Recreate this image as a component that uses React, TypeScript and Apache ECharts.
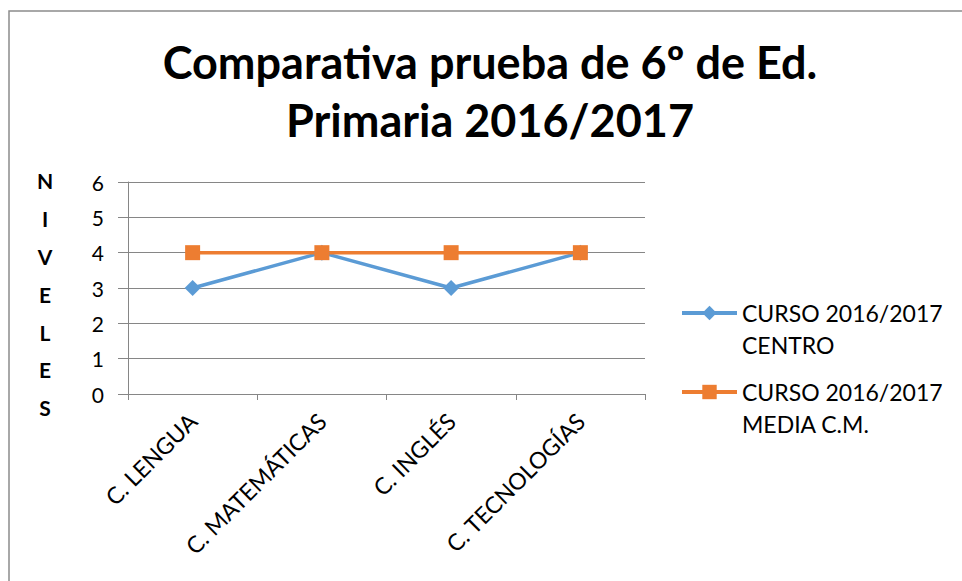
import React, { useEffect, useRef } from "react";
import * as echarts from "echarts";

const categories = ["C. LENGUA", "C. MATEMÁTICAS", "C. INGLÉS", "C. TECNOLOGÍAS"];
const centroValues = [3, 4, 3, 4];
const mediaValues = [4, 4, 4, 4];
const seriesNames = ["CURSO 2016/2017\nCENTRO", "CURSO 2016/2017\nMEDIA C.M."];
const titleLines = ["Comparativa prueba de 6º de Ed.", "Primaria 2016/2017"];
const yAxisTitle = "NIVELES";

const FONT = "Lato, 'Noto Sans', sans-serif";

export default function App() {
  const ref = useRef<HTMLDivElement>(null);
  useEffect(() => {
    if (!ref.current) return;
    const chart = echarts.init(ref.current, undefined, { renderer: "svg" });
    const option = {
      animation: false,
      backgroundColor: "#ffffff",
      textStyle: { fontFamily: FONT },
      graphic: [
        {
          type: "rect",
          shape: { x: 9, y: 11, width: 1000, height: 600 },
          style: { fill: "none", stroke: "#8c8c8c", lineWidth: 1.5 },
          silent: true,
        },
        {
          type: "text",
          x: 490,
          y: 62,
          style: {
            text: titleLines[0],
            fontFamily: FONT,
            fontWeight: "bold",
            fontSize: 45,
            fill: "#000",
            textAlign: "center",
            textVerticalAlign: "middle",
          },
        },
        {
          type: "text",
          x: 490,
          y: 120,
          style: {
            text: titleLines[1],
            fontFamily: FONT,
            fontWeight: "bold",
            fontSize: 45,
            fill: "#000",
            textAlign: "center",
            textVerticalAlign: "middle",
          },
        },
        {
          type: "text",
          x: 45,
          y: 162,
          style: {
            text: yAxisTitle.split("").join("\n"),
            fontFamily: FONT,
            fontWeight: "bold",
            fontSize: 21,
            lineHeight: 37.8,
            fill: "#000",
            textAlign: "center",
          },
        },
      ],
      grid: { left: 128, right: 317, top: 182, bottom: 187 },
      legend: {
        orient: "vertical",
        left: 680,
        top: 265,
        padding: 0,
        itemWidth: 55,
        itemHeight: 18,
        itemGap: -17,
        lineStyle: { width: 4 },
        formatter: (name: string) => "\n" + name,
        textStyle: {
          fontFamily: FONT,
          fontSize: 23,
          lineHeight: 32,
          color: "#000",
        },
        data: seriesNames,
      },
      xAxis: {
        type: "category",
        data: categories,
        boundaryGap: true,
        axisLine: { lineStyle: { color: "#868686", width: 1 } },
        axisTick: { show: true, length: 6, lineStyle: { color: "#868686" } },
        axisLabel: {
          rotate: 45,
          fontFamily: FONT,
          fontSize: 23,
          color: "#000",
          margin: 23,
          interval: 0,
        },
        splitLine: { show: false },
      },
      yAxis: {
        type: "value",
        min: 0,
        max: 6,
        interval: 1,
        axisLine: { show: true, lineStyle: { color: "#868686", width: 1 } },
        axisTick: { show: true, length: 10, lineStyle: { color: "#868686" } },
        axisLabel: { fontFamily: FONT, fontSize: 21, color: "#000", margin: 24 },
        splitLine: { show: true, lineStyle: { color: "#868686", width: 1 } },
      },
      series: [
        {
          name: seriesNames[0],
          type: "line",
          data: centroValues,
          symbol: "diamond",
          symbolSize: 16,
          lineStyle: { color: "#5B9BD5", width: 3.5 },
          itemStyle: { color: "#5B9BD5" },
        },
        {
          name: seriesNames[1],
          type: "line",
          data: mediaValues,
          symbol: "rect",
          symbolSize: 15,
          lineStyle: { color: "#ED7D31", width: 3.5 },
          itemStyle: { color: "#ED7D31" },
        },
      ],
    };
    chart.setOption(option as any);
    return () => chart.dispose();
  }, []);
  return (
    <div
      ref={ref}
      style={{ position: "fixed", left: 0, top: 0, width: 962, height: 581 }}
    />
  );
}
